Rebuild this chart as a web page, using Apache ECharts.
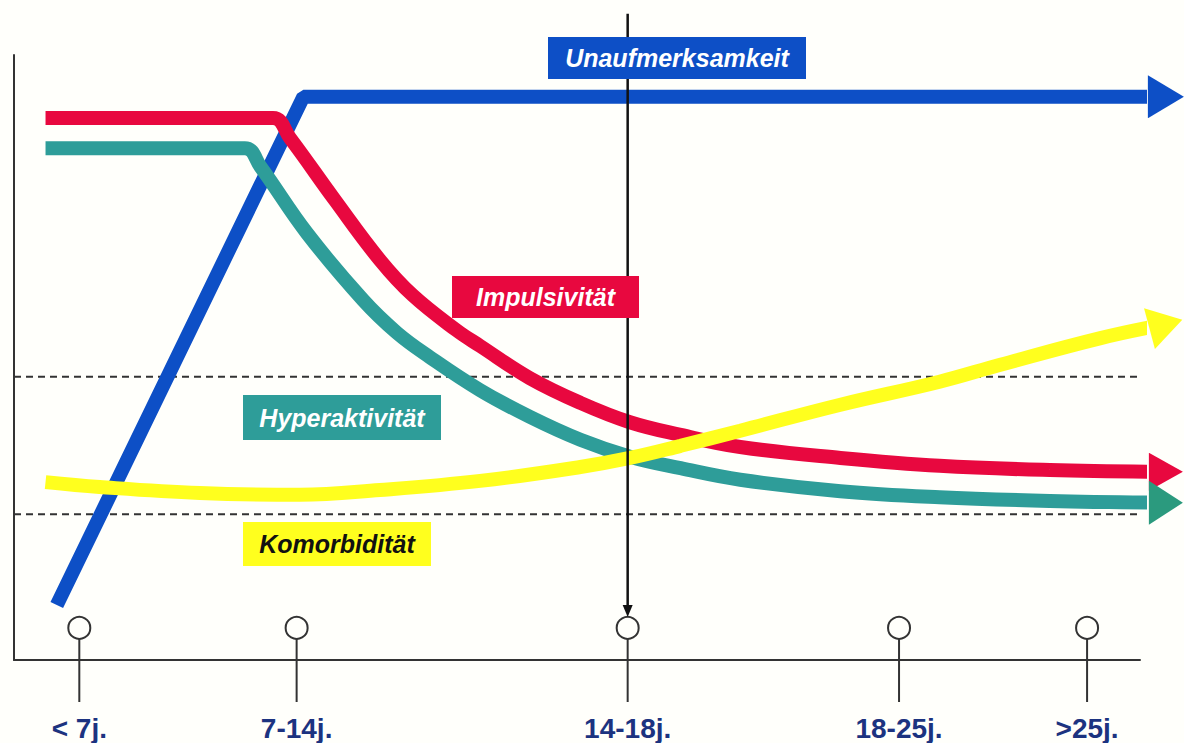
<!DOCTYPE html>
<html>
<head>
<meta charset="utf-8">
<script src="https://cdn.jsdelivr.net/npm/echarts@6/dist/echarts.min.js"></script>
<style>
  html, body { margin: 0; padding: 0; background: #fffffb; }
  #main { width: 1184px; height: 743px; }
</style>
</head>
<body>
<div id="main"></div>
<script>
// Altersstufen auf der x-Achse
var ageLabels = ['< 7j.', '7-14j.', '14-18j.', '18-25j.', '>25j.'];
var agePos = [5.8, 25.1, 54.5, 78.6, 95.3];
var markLevel = 5.3;

// Verlaeufe (x = Altersposition, y = Auspraegung)
var unaufmerksamkeit = [[3.8, 9.1], [25.7, 93.1], [102.3, 93.1]];
var impulsivitaet = [[2.8, 89.6], [23.0, 89.6], [24.5, 86.3], [28.5, 76.0], [32.5, 66.1], [35.4, 60.3],
  [39.3, 54.5], [41.4, 51.9], [45.8, 46.6], [50.3, 42.5], [54.7, 39.3], [59.2, 37.2], [64.5, 35.2],
  [73.4, 33.4], [82.2, 32.1], [92.0, 31.4], [102.3, 31.1]];
var hyperaktivitaet = [[2.8, 84.6], [20.5, 84.6], [21.9, 81.5], [26.0, 70.6], [31.0, 59.5], [34.0, 54.1],
  [36.9, 50.1], [41.4, 44.6], [45.8, 40.2], [50.3, 36.4], [54.7, 33.6], [59.2, 31.7], [64.5, 29.8],
  [73.4, 27.9], [82.2, 26.9], [92.0, 26.3], [102.3, 26.0]];
var komorbiditaet = [[2.8, 29.4], [7.6, 28.6], [16.5, 27.6], [25.4, 27.3], [32.5, 28.1], [41.4, 29.6],
  [50.3, 31.9], [54.7, 33.4], [59.2, 35.4], [64.5, 37.9], [73.4, 42.2], [82.2, 46.0], [87.6, 48.8],
  [96.5, 53.2], [102.3, 55.5]];

// gestrichelte Grenzlinien und Stichtag
var grenzen = [46.8, 24.1];
var grenzeEnde = 100.9;
var stichtag = [[54.5, 106.8], [54.5, 8.1]];

function arrowSeries(name, points, color, headSize, headRotate, headColor, smooth) {
  var data = points.slice(0, -1);
  data.push({
    value: points[points.length - 1],
    symbol: 'triangle',
    symbolSize: headSize,
    symbolRotate: headRotate,
    itemStyle: { color: headColor || color }
  });
  return {
    name: name,
    type: 'line',
    data: data,
    symbol: 'none',
    showSymbol: true,
    smooth: smooth,
    clip: false,
    silent: true,
    itemStyle: { color: color },
    lineStyle: { color: color, width: 14 }
  };
}

var series = [];
grenzen.forEach(function (y) {
  series.push({
    type: 'line',
    data: [[0, y], [grenzeEnde, y]],
    symbol: 'none',
    clip: false,
    silent: true,
    lineStyle: { color: '#333', width: 2, type: [7, 5] }
  });
});
series.push(arrowSeries('Unaufmerksamkeit', unaufmerksamkeit, '#0d4fc6', [43, 36], -90, null, false));
series.push(arrowSeries('Impulsivität', impulsivitaet, '#e8083f', [38, 34], -90, null, 0.4));
series.push(arrowSeries('Hyperaktivität', hyperaktivitaet, '#2e9d99', [44, 34], -90, '#2b9a7e', 0.4));
series.push(arrowSeries('Komorbidität', komorbiditaet, '#ffff1e', [42, 34], -75, null, 0.4));
series.push({
  type: 'line',
  data: [stichtag[0], { value: stichtag[1], symbol: 'triangle', symbolSize: [10, 12], symbolRotate: 180 }],
  symbol: 'none',
  showSymbol: true,
  clip: false,
  silent: true,
  itemStyle: { color: '#111' },
  lineStyle: { color: '#111', width: 2.5 }
});
series.push({
  type: 'custom',
  clip: false,
  silent: true,
  data: agePos.map(function (x) { return [x, markLevel]; }),
  renderItem: function (params, api) {
    var p = api.coord([api.value(0), api.value(1)]);
    var base = api.coord([api.value(0), 0]);
    return {
      type: 'group',
      children: [
        { type: 'line', shape: { x1: p[0], y1: p[1] + 11, x2: p[0], y2: base[1] + 42 },
          style: { stroke: '#333', lineWidth: 2 } },
        { type: 'circle', shape: { cx: p[0], cy: p[1], r: 11 },
          style: { fill: '#fffffb', stroke: '#333', lineWidth: 2 } }
      ]
    };
  }
});

function labelBox(text, x, y, w, h, fill, textColor) {
  return {
    type: 'group',
    left: x,
    top: y,
    z: 100,
    children: [
      { type: 'rect', z: 100, shape: { x: 0, y: 0, width: w, height: h }, style: { fill: fill } },
      { type: 'text', z: 101, x: w / 2, y: h / 2,
        style: { text: text, fill: textColor, align: 'center', verticalAlign: 'middle',
          font: 'italic bold 25px "Liberation Sans", Arial, sans-serif' } }
    ]
  };
}

var chart = echarts.init(document.getElementById('main'), null, { renderer: 'svg' });
chart.setOption({
  backgroundColor: '#fffffb',
  animation: false,
  grid: { left: 14, right: 44, top: 55, bottom: 83 },
  xAxis: {
    type: 'value',
    min: 0,
    max: 100,
    splitLine: { show: false },
    axisLine: { show: true, onZero: false, lineStyle: { color: '#333', width: 2 } },
    axisTick: { show: false },
    axisLabel: {
      customValues: agePos,
      margin: 54,
      color: '#1c3380',
      fontSize: 28,
      fontWeight: 'bold',
      fontFamily: '"Liberation Sans", Arial, sans-serif',
      formatter: function (v) {
        var best = 0;
        for (var i = 1; i < agePos.length; i++) {
          if (Math.abs(agePos[i] - v) < Math.abs(agePos[best] - v)) best = i;
        }
        return ageLabels[best];
      }
    }
  },
  yAxis: {
    type: 'value',
    min: 0,
    max: 100,
    splitLine: { show: false },
    axisLine: { show: true, onZero: false, lineStyle: { color: '#333', width: 2 } },
    axisTick: { show: false },
    axisLabel: { show: false }
  },
  series: series,
  graphic: [
    labelBox('Unaufmerksamkeit', 548, 37, 258, 42, '#0d4fc6', '#ffffff'),
    labelBox('Impulsivität', 452, 276, 187, 42, '#e8083f', '#ffffff'),
    labelBox('Hyperaktivität', 243, 395, 198, 45, '#2e9d99', '#ffffff'),
    labelBox('Komorbidität', 243, 522, 188, 44, '#ffff1e', '#111111')
  ]
});
</script>
</body>
</html>
